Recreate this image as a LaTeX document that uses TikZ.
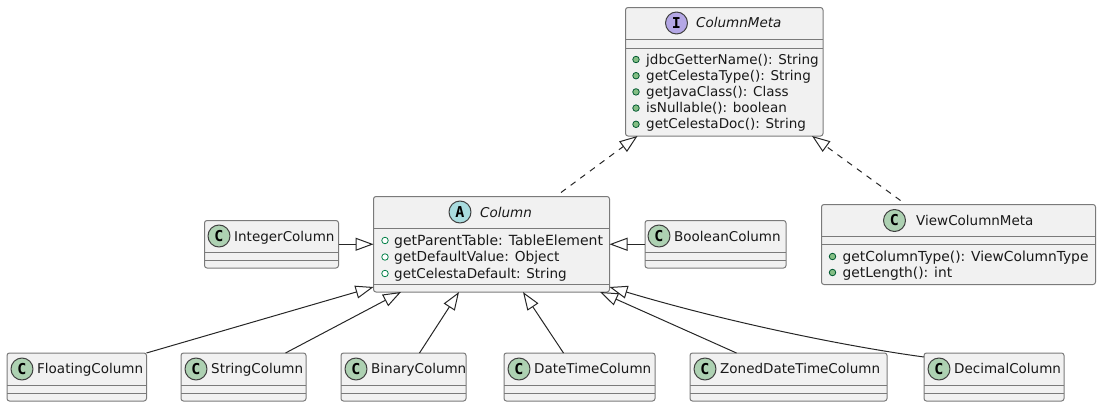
\documentclass[tikz,border=0pt]{standalone}
\usepackage{fontspec}
\setmainfont{DejaVu Sans}
\newfontfamily\badgefont{DejaVu Sans Mono}
\usepackage{xcolor}
\usetikzlibrary{arrows.meta,calc,fit}
\definecolor{boxfill}{HTML}{F1F1F1}
\definecolor{boxline}{HTML}{7A7A7A}
\definecolor{classC}{HTML}{ADD1B2}
\definecolor{classA}{HTML}{A9DCDF}
\definecolor{classI}{HTML}{B4A7E5}
\definecolor{pubgreen}{HTML}{84BE84}
\definecolor{absgreen}{HTML}{038048}
\tikzset{
  classbox/.style={draw=boxline, fill=boxfill, line width=1pt, rounded corners=2.5pt, inner sep=0pt, outer sep=0pt},
  sepline/.style={draw=boxline, line width=1pt},
  badge/.style={circle, draw=black!75, line width=1pt, minimum size=22pt, inner sep=0pt, font=\badgefont\bfseries\fontsize{15}{15}\selectfont},
  lab/.style={anchor=base west, inner sep=0pt, text=black!90, font=\fontsize{13.5}{16}\selectfont},
  ilab/.style={lab, font=\fontsize{13.5}{16}\selectfont\itshape},
  pubdot/.style={circle, draw=absgreen!70!black, fill=pubgreen, line width=.8pt, minimum size=6.5pt, inner sep=0pt},
  absdot/.style={circle, draw=absgreen, fill=white, line width=.8pt, minimum size=6.5pt, inner sep=0pt},
  ext/.style={draw=black!85, line width=1pt, -{Triangle[open,length=18pt,width=13pt,line width=1pt]}},
  impl/.style={ext, dash pattern=on 6pt off 6pt}
}
% #1 = name, #2,#3 = top left, #4,#5 = bottom right, #6,#7 = separators
\newcommand{\ClassBox}[7]{%
  \node[classbox, fit={(#2,#3)(#4,#5)}] (#1) {};
  \draw[sepline] (#2,#6) -- (#4,#6);
  \draw[sepline] (#2,#7) -- (#4,#7);
}
% #1 = name, #2 = badge colour, #3 = letter, #4 = badge x, #5 = badge y, #6 = text x, #7 = baseline, #8 = label style, #9 = text
\newcommand{\ClassHead}[9]{%
  \node[badge, fill=#2] (#1Badge) at (#4,#5) {#3};
  \node[#8] (#1Title) at (#6,#7) {#9};
}
\begin{document}
\begin{tikzpicture}[x=1pt, y=-1pt, line cap=butt, line join=round]
  \useasboundingbox (0,0) rectangle (1101,407);
  % interface
  \ClassBox{ColumnMeta}{625.5}{7.5}{823}{136}{39.5}{48}
  \ClassHead{ColumnMeta}{classI}{I}{676.5}{23}{696}{27.5}{ilab}{ColumnMeta}
  \foreach \txt [count=\i] in {jdbcGetterName(): String, getCelestaType(): String, getJavaClass(): Class, isNullable(): boolean, getCelestaDoc(): String}{
    \node[pubdot] (metaDot\i) at (636,{59.5+16.2*(\i-1)}) {};
    \node[lab] (metaMember\i) at (646,{64+16.2*(\i-1)}) {\txt};
  }
  % abstract class
  \node[classbox, fit={(373.5,196.5)(609.5,292)}] (Column) {};
  \draw[sepline] (373.5,228) -- (609.5,228);
  \draw[sepline] (373.5,284) -- (609.5,284);
  \ClassHead{Column}{classA}{A}{460}{212}{480}{217}{ilab}{Column}
  \foreach \txt/\fs [count=\i] in {getParentTable: TableElement/14, getDefaultValue: Object/13.7, getCelestaDefault: String/13.5}{
    \node[absdot] (colDot\i) at (385,{240.5+16.5*(\i-1)}) {};
    \node[lab, font=\fontsize{\fs}{16}\selectfont] (colMember\i) at (394,{245+16.5*(\i-1)}) {\txt};
  }
  % view meta
  \ClassBox{ViewColumnMeta}{821.5}{204.5}{1095.5}{284.5}{236.5}{244.5}
  \ClassHead{ViewColumnMeta}{classC}{C}{894.5}{220.5}{916}{225}{lab}{ViewColumnMeta}
  \foreach \txt [count=\i] in {getColumnType(): ViewColumnType, getLength(): int}{
    \node[pubdot] (viewDot\i) at (832.5,{256.5+16*(\i-1)}) {};
    \node[lab, font=\fontsize{13.8}{16}\selectfont] (viewMember\i) at (842.5,{261+16*(\i-1)}) {\txt};
  }
  % plain classes
  \ClassBox{IntegerColumn}{204.5}{220.5}{338.5}{268}{252}{260}
  \ClassHead{IntegerColumn}{classC}{C}{219}{236}{234}{241}{lab}{IntegerColumn}
  \ClassBox{BooleanColumn}{645}{220.5}{786}{268}{252}{260}
  \ClassHead{BooleanColumn}{classC}{C}{659}{236}{674}{241}{lab}{BooleanColumn}
  \foreach \nm/\xa/\xb in {FloatingColumn/7/146.5, StringColumn/181/306, BinaryColumn/341/466, DateTimeColumn/504/655, ZonedDateTimeColumn/690/887, DecimalColumn/924/1064}{
    \ClassBox{\nm}{\xa}{353}{\xb}{401}{385}{393}
    \ClassHead{\nm}{classC}{C}{\xa+15}{369}{\xa+30}{373.5}{lab}{\nm}
  }
  % inheritance
  \draw[ext] (IntegerColumn.east) -- (Column.west);
  \draw[ext] (BooleanColumn.west) -- (Column.east);
  \draw[ext] (FloatingColumn.north east) -- ($(Column.south west)+(0,-5)$);
  \draw[ext] ($(StringColumn.north)+(42,0)$) -- ($(Column.south)+(-90.5,0)$);
  \draw[ext] ($(BinaryColumn.north)+(16,0)$) -- ($(Column.south)+(-32.5,0)$);
  \draw[ext] ($(DateTimeColumn.north)+(-16,0)$) -- ($(Column.south)+(31.5,0)$);
  \draw[ext] ($(ZonedDateTimeColumn.north)+(-52,0)$) -- ($(Column.south)+(108.5,0)$);
  \draw[ext] ($(DecimalColumn.north west)+(0,4)$) .. controls (850,347) and (730,323) .. ($(Column.south east)+(0,-5)$);
  % realization
  \draw[impl] ($(Column.north)+(69.5,-4)$) -- ($(ColumnMeta.south west)+(12,0)$);
  \draw[impl] ($(ViewColumnMeta.north)+(-58,-4)$) -- ($(ColumnMeta.south east)+(-11,0)$);
\end{tikzpicture}
\end{document}
